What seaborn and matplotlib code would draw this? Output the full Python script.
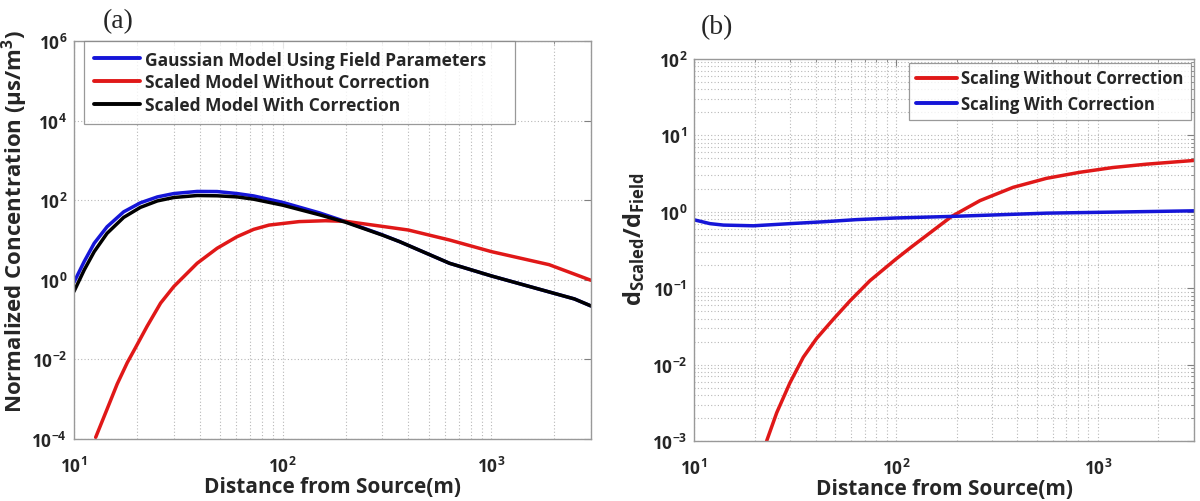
import matplotlib
matplotlib.use("Agg")
import matplotlib.pyplot as plt
import matplotlib.ticker as mticker
from matplotlib.lines import Line2D
import seaborn as sns
import pandas as pd

# ---------------- data ----------------
# Panel (a): normalized concentration vs distance
a_blue_x = [10, 11.2, 12.5, 14.4, 17.3, 20.8, 25.1, 30.1, 38.9, 48.5, 60.4, 72.6, 100, 150, 200, 300, 363, 630, 1000, 2500, 3000]
a_blue_y = [0.87, 2.9, 8.3, 21.5, 51, 86, 121, 147, 166, 165, 147, 128, 88, 48, 29, 13.5, 9.1, 2.6, 1.25, 0.33, 0.22]
a_black_x = [10, 11.2, 12.5, 14.4, 17.3, 20.8, 25.1, 30.1, 38.9, 48.5, 60.4, 72.6, 100, 150, 200, 300, 363, 630, 1000, 2500, 3000]
a_black_y = [0.51, 1.78, 5.1, 14.7, 37, 66, 96, 117, 131, 129, 121, 106, 75, 43, 28, 13.3, 9.1, 2.6, 1.25, 0.33, 0.22]
a_red_x = [12.7, 14.4, 16.1, 18.0, 19.7, 22.4, 26.0, 30.1, 38.9, 48.5, 60.4, 72.6, 86, 120, 160, 200, 300, 400, 630, 1000, 1890, 3000]
a_red_y = [1.1e-4, 5.6e-4, 2.4e-3, 8.3e-3, 0.0196, 0.068, 0.26, 0.68, 2.6, 6.2, 12.1, 18.5, 23.7, 29, 30.5, 29.5, 22, 17.8, 10, 5.1, 2.4, 0.97]
a_labels = ["Gaussian Model Using Field Parameters",
            "Scaled Model Without Correction",
            "Scaled Model With Correction"]

# Panel (b): ratio of scaled to field distance
b_red_x = [22.9, 25.7, 29.9, 34.8, 40.5, 48.9, 59.2, 74.3, 100, 120, 189, 261, 381, 557, 815, 1191, 1742, 3000]
b_red_y = [1e-3, 2.35e-3, 5.8e-3, 0.0125, 0.022, 0.039, 0.068, 0.125, 0.24, 0.35, 0.87, 1.40, 2.09, 2.74, 3.29, 3.8, 4.2, 4.7]
b_blue_x = [10, 12.0, 14.0, 19.7, 29.9, 43.7, 63.8, 100, 189, 557, 3000]
b_blue_y = [0.786, 0.70, 0.67, 0.656, 0.70, 0.74, 0.79, 0.83, 0.87, 0.96, 1.03]
b_labels = ["Scaling Without Correction", "Scaling With Correction"]

BLUE = "#1515d8"
RED = "#e01818"
BLACK = "#000000"

FONT = ["Open Sans", "DejaVu Sans"]

# ---------------- style ----------------
sns.set_theme(style="white")
plt.rcParams["font.family"] = FONT
plt.rcParams["font.weight"] = "bold"
plt.rcParams["mathtext.fontset"] = "custom"
plt.rcParams["mathtext.rm"] = "Open Sans:bold"
plt.rcParams["mathtext.bf"] = "Open Sans:bold"
plt.rcParams["mathtext.it"] = "Open Sans:bold:italic"
plt.rcParams["mathtext.sf"] = "Open Sans:bold"

fig = plt.figure(figsize=(12, 5.02), dpi=100)
ax1 = fig.add_axes([74 / 1200, 1 - 440 / 502, (591 - 74) / 1200, (440 - 42) / 502])
ax2 = fig.add_axes([694 / 1200, 1 - 442 / 502, (1194 - 694) / 1200, (442 - 60) / 502])

df_a = pd.concat([
    pd.DataFrame({"x": a_blue_x, "y": a_blue_y, "s": a_labels[0]}),
    pd.DataFrame({"x": a_red_x, "y": a_red_y, "s": a_labels[1]}),
    pd.DataFrame({"x": a_black_x, "y": a_black_y, "s": a_labels[2]}),
])
df_b = pd.concat([
    pd.DataFrame({"x": b_red_x, "y": b_red_y, "s": b_labels[0]}),
    pd.DataFrame({"x": b_blue_x, "y": b_blue_y, "s": b_labels[1]}),
])

sns.lineplot(data=df_a, x="x", y="y", hue="s", hue_order=a_labels,
             palette=[BLUE, RED, BLACK], linewidth=2.5, ax=ax1, legend=False,
             sort=True, estimator=None)
sns.lineplot(data=df_b, x="x", y="y", hue="s", hue_order=b_labels,
             palette=[RED, BLUE], linewidth=2.5, ax=ax2, legend=False,
             sort=True, estimator=None)
for ax in (ax1, ax2):
    for ln in ax.get_lines():
        ln.set_solid_joinstyle("round")
        ln.set_solid_capstyle("round")

grid_kw = dict(color="#b8b8b8", linestyle=(0, (1, 2)), linewidth=0.8)

for ax in (ax1, ax2):
    ax.set_xscale("log")
    ax.set_yscale("log")
    ax.set_xlim(10, 3000)
    ax.xaxis.set_major_locator(mticker.LogLocator(base=10, numticks=10))
    ax.xaxis.set_minor_locator(mticker.LogLocator(base=10, subs=range(2, 10), numticks=20))
    ax.xaxis.set_minor_formatter(mticker.NullFormatter())
    ax.tick_params(which="both", direction="in", top=True, right=True,
                   color="#808080", labelsize=12.5)
    ax.tick_params(which="major", length=5, width=0.8)
    ax.tick_params(which="minor", length=2.5, width=0.6)
    ax.tick_params(axis="x", pad=12)
    ax.tick_params(axis="y", pad=5)
    for sp in ax.spines.values():
        sp.set_color("#999999")
        sp.set_linewidth(1.0)
    ax.grid(True, which="major", axis="both", **grid_kw)
    ax.grid(True, which="minor", axis="x", **grid_kw)
    ax.set_axisbelow(True)
    ax.set_xlabel("Distance from Source(m)", fontsize=15, fontweight="bold", labelpad=0)

# panel a
ax1.set_ylim(1e-4, 1e6)
ax1.yaxis.set_major_locator(mticker.FixedLocator([1e-4, 1e-2, 1e0, 1e2, 1e4, 1e6]))
ax1.yaxis.set_minor_locator(mticker.NullLocator())
ax1.set_ylabel("Normalized Concentration (μs/m$^{3}$)", fontsize=16, fontweight="bold")
ax1.yaxis.set_label_coords(-0.086, 0.55)

# panel b
ax2.set_ylim(1e-3, 1e2)
ax2.yaxis.set_major_locator(mticker.LogLocator(base=10, numticks=10))
ax2.yaxis.set_minor_locator(mticker.LogLocator(base=10, subs=range(2, 10), numticks=20))
ax2.yaxis.set_minor_formatter(mticker.NullFormatter())
ax2.grid(True, which="minor", axis="y", **grid_kw)
ax2.set_ylabel(r"d$_{\mathrm{Scaled}}$/d$_{\mathrm{Field}}$", fontsize=17, fontweight="bold")
ax2.yaxis.set_label_coords(-0.094, 0.53)

# legends
h_a = [Line2D([], [], color=c, linewidth=2.8) for c in (BLUE, RED, BLACK)]
leg1 = ax1.legend(h_a, a_labels, loc="upper left",
                  bbox_to_anchor=(10 / 517, 0.75, (515 - 84) / 517, 0.25), mode="expand",
                  frameon=True, fancybox=False, edgecolor="#808080",
                  handlelength=2.7, handletextpad=0.25, borderpad=0.55,
                  labelspacing=0.28, borderaxespad=0.0,
                  prop={"family": FONT, "weight": "bold", "size": 12.5})
leg1.get_frame().set_linewidth(0.9)

h_b = [Line2D([], [], color=c, linewidth=2.8) for c in (RED, BLUE)]
leg2 = ax2.legend(h_b, b_labels, loc="upper right", bbox_to_anchor=(0.993, 0.99),
                  frameon=True, fancybox=False, edgecolor="#808080",
                  handlelength=2.5, handletextpad=0.25, borderpad=0.4,
                  labelspacing=0.45, borderaxespad=0.0,
                  prop={"family": FONT, "weight": "bold", "size": 12})
leg2.get_frame().set_linewidth(0.9)

# panel letters
fig.text(118 / 1200, 1 - 22 / 502, "(a)", fontsize=20, family="Liberation Serif",
         fontweight="normal", ha="center", va="center")
fig.text(717 / 1200, 1 - 28 / 502, "(b)", fontsize=20, family="Liberation Serif",
         fontweight="normal", ha="center", va="center")

fig.savefig("out.png", dpi=100, facecolor="white")
